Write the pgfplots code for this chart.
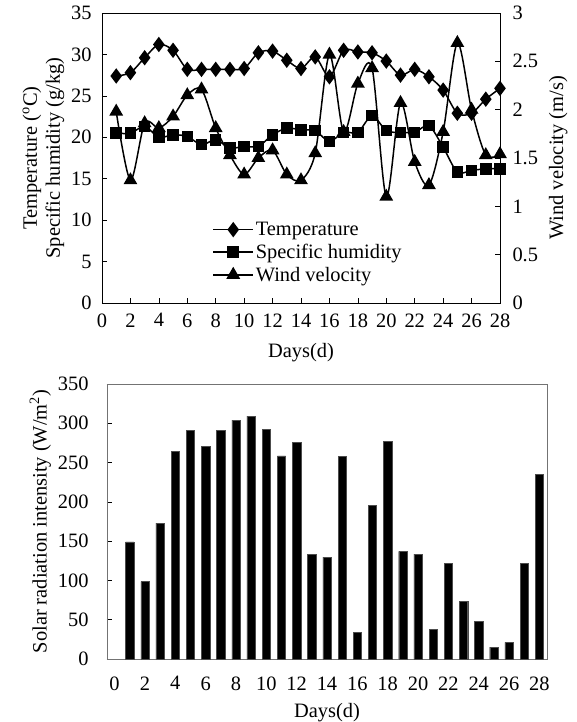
\documentclass[border=0pt]{standalone}
\usepackage{fontspec}
\setmainfont{Liberation Serif}
\usepackage{pgfplots}
\usepackage{pgfplotstable}
\pgfplotsset{compat=1.18}

% day, temperature, specific humidity, wind velocity
\pgfplotstableread{
day temp hum wind
1  27.4 20.5 1.98
2  27.8 20.5 1.27
3  29.6 21.3 1.86
4  31.2 20.0 1.81
5  30.5 20.3 1.93
6  28.2 20.1 2.15
7  28.2 19.1 2.21
8  28.2 19.7 1.81
9  28.2 18.7 1.53
10 28.3 18.9 1.33
11 30.2 18.9 1.50
12 30.4 20.3 1.58
13 29.3 21.1 1.33
14 28.3 20.9 1.27
15 29.7 20.8 1.55
16 27.3 19.5 2.57
17 30.5 20.6 1.77
18 30.3 20.6 2.27
19 30.2 22.6 2.43
20 29.2 20.8 1.10
21 27.5 20.6 2.07
22 28.2 20.6 1.46
23 27.3 21.4 1.22
24 25.7 18.8 1.77
25 22.9 15.8 2.69
26 22.9 16.0 2.00
27 24.6 16.2 1.53
28 25.9 16.2 1.54
}\weather

% day, solar radiation intensity
\pgfplotstableread{
day solar
1  149
2  98.6
3  173
4  264
5  291
6  271
7  291
8  304
9  309
10 292
11 258.5
12 276
13 133.5
14 129.7
15 258
16 34
17 195.6
18 277
19 137
20 133.5
21 37.4
22 122
23 73
24 47.6
25 15
26 21.3
27 122
28 234.7
}\solar

\pgfplotsset{
  every axis/.append style={
    font=\fontsize{20.5}{23}\selectfont,
    scale only axis,
    tick align=inside,
    major tick length=5bp,
    /pgf/number format/assume math mode=true,
    tick style={black, line width=0.6bp},
  },
  wline/.style={black, line width=1.5bp, smooth, tension=0.5},
}

\begin{document}
\begin{tikzpicture}
\path[use as bounding box] (-102bp,-419bp) rectangle (475bp,303bp);

% top panel, left axis
\begin{axis}[
    at={(0,0)}, anchor=south west,
    width=398bp, height=290bp,
    xmin=0, xmax=28, ymin=0, ymax=35,
    xtick={0,2,...,28}, ytick={0,5,...,35},
    xtick pos=bottom, ytick pos=left,
    axis line style={black, line width=0.8bp},
    xticklabel style={yshift=-7bp},
    yticklabel style={xshift=-7bp},
    xlabel={Days(d)},
    xlabel style={yshift=-9bp},
    ylabel={Temperature (\textsuperscript{o}C)\\Specific humidity (g/kg)},
    ylabel style={align=center},
]
\addplot[wline, mark=diamond*, mark size=6.5bp, mark options={solid}] table[x=day, y=temp] {\weather};
\addplot[wline, mark=square*, mark size=5bp] table[x=day, y=hum] {\weather};
\end{axis}

% top panel, right axis
\begin{axis}[
    at={(0,0)}, anchor=south west,
    width=398bp, height=290bp,
    xmin=0, xmax=28, ymin=0, ymax=3,
    ytick={0,0.5,...,3},
    axis y line*=right, axis x line=none,
    axis line style={black, line width=0.8bp},
    yticklabel style={xshift=9bp},
    ylabel={Wind velocity (m/s)},
    ylabel style={yshift=-4bp},
    legend style={at={(0.27,0.293)}, anchor=north west, draw=none, fill=none,
      row sep=3bp, font=\fontsize{20.5}{23}\selectfont},
    legend cell align=left,
    legend image code/.code={
      \draw[mark repeat=2, mark phase=2] plot coordinates {(0cm,0cm) (0.7cm,0cm) (1.4cm,0cm)};
    },
]
\addlegendimage{black, line width=1.5bp, mark=diamond*, mark size=6.5bp}
\addlegendentry{Temperature}
\addlegendimage{black, line width=1.5bp, mark=square*, mark size=5bp}
\addlegendentry{Specific humidity}
\addplot[wline, mark=triangle*, mark size=6.5bp] table[x=day, y=wind] {\weather};
\addlegendentry{Wind velocity}
\end{axis}

% bottom panel
\begin{axis}[
    at={(5bp,-356bp)}, anchor=south west,
    width=440bp, height=275bp,
    ybar, bar width=8.3bp,
    xmin=-0.5, xmax=28.5, ymin=0, ymax=350,
    xtick={0,2,...,28}, ytick={0,50,...,350},
    ytick pos=left,
    major x tick style={draw=none},
    axis line style={black!55, line width=0.9bp},
    xticklabel style={yshift=-9bp},
    yticklabel style={xshift=-15bp},
    xlabel={Days(d)},
    xlabel style={yshift=-6bp},
    ylabel={Solar radiation intensity (W/m\textsuperscript{2})},
]
\addplot[fill=black, draw=black!70, bar shift=0pt] table[x=day, y=solar] {\solar};
\end{axis}
\end{tikzpicture}
\end{document}
